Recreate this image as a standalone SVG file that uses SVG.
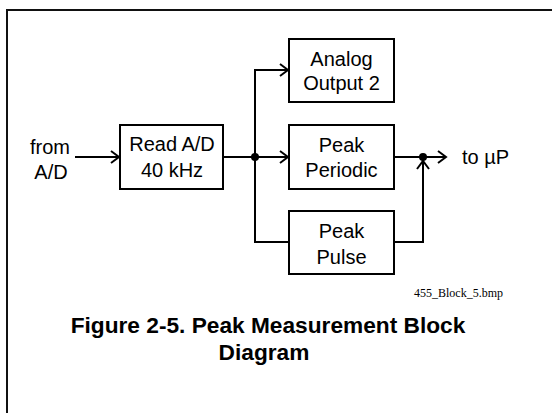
<svg xmlns="http://www.w3.org/2000/svg" width="552" height="413" viewBox="0 0 552 413">
<style>
.box{fill:#fff;stroke:#000;stroke-width:2}
.ln{fill:none;stroke:#000;stroke-width:2}
.t{font-family:"Liberation Sans",Arial,sans-serif;font-size:20px;fill:#000;text-anchor:middle}
.cap{font-family:"Liberation Sans",Arial,sans-serif;font-size:22.7px;font-weight:bold;fill:#000;text-anchor:middle}
.fn{font-family:"Liberation Serif","Times New Roman",serif;font-size:12px;fill:#000;text-anchor:end}
</style>
<defs>
<marker id="arr" markerUnits="userSpaceOnUse" markerWidth="20" markerHeight="20" viewBox="-10 -10 20 20" refX="0" refY="0" orient="auto">
<path d="M-8,-6 L0,0 L-8,6" fill="none" stroke="#000" stroke-width="2"/>
</marker>
</defs>
<rect width="552" height="413" fill="#fff"/>
<path d="M7,420 V10 H560" fill="none" stroke="#111" stroke-width="2"/>
<g id="connectors">
<path class="ln" d="M75,157 H119" marker-end="url(#arr)"/>
<path class="ln" d="M223,157 H288" marker-end="url(#arr)"/>
<path class="ln" d="M255,157 V70 H288" marker-end="url(#arr)"/>
<path class="ln" d="M255,157 V242 H289"/>
<path class="ln" d="M394,157 H446" marker-end="url(#arr)"/>
<path class="ln" d="M394,242 H423 V161" marker-end="url(#arr)"/>
<circle cx="255" cy="157" r="4" fill="#000"/>
<circle cx="423" cy="157" r="4" fill="#000"/>
</g>
<g id="from">
<text class="t" x="50" y="154">from</text>
<text class="t" x="51" y="179">A/D</text>
</g>
<g id="readad">
<rect class="box" x="120" y="125" width="103" height="64"/>
<text class="t" x="172" y="151">Read A/D</text>
<text class="t" x="172" y="177">40 kHz</text>
</g>
<g id="analog">
<rect class="box" x="289" y="39" width="105" height="63"/>
<text class="t" x="341.5" y="66">Analog</text>
<text class="t" x="341.5" y="90">Output 2</text>
</g>
<g id="periodic">
<rect class="box" x="289" y="125" width="105" height="64"/>
<text class="t" x="341.5" y="152">Peak</text>
<text class="t" x="341.5" y="177">Periodic</text>
</g>
<g id="pulse">
<rect class="box" x="289" y="211" width="105" height="63"/>
<text class="t" x="341.5" y="238">Peak</text>
<text class="t" x="341.5" y="264">Pulse</text>
</g>
<g id="toup">
<text class="t" x="462" y="164" style="text-anchor:start">to µP</text>
</g>
<text class="fn" x="503" y="297">455_Block_5.bmp</text>
<text class="cap" x="268" y="333">Figure 2-5. Peak Measurement Block</text>
<text class="cap" x="264" y="360">Diagram</text>
</svg>
